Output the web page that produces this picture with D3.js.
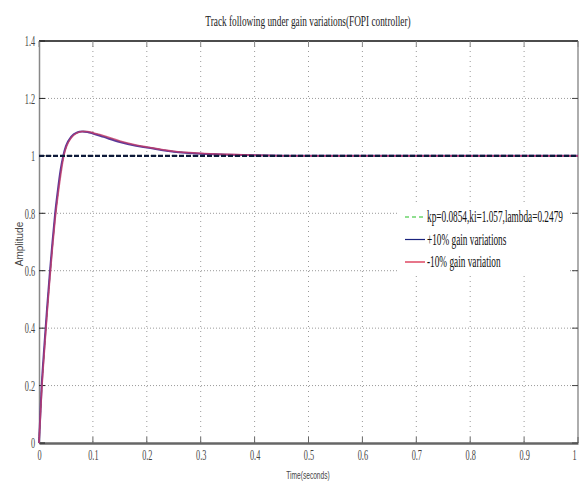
<!DOCTYPE html>
<html><head><meta charset="utf-8">
<script src="https://cdn.jsdelivr.net/npm/d3@7"></script>
<style>body{margin:0;background:#fff}svg{display:block}</style>
</head><body>
<svg id="c" width="579" height="483"></svg>
<script>
const time     = [0,0.005,0.01,0.015,0.02,0.025,0.03,0.035,0.04,0.045,0.05,0.06,0.07,0.08,0.09,0.1,0.12,0.15,0.18,0.2,0.25,0.3,0.35,0.4,0.5,0.6,0.8,1.0];
const nominal  = [0,0.19,0.33,0.46,0.58,0.69,0.79,0.87,0.94,0.995,1.03,1.065,1.08,1.085,1.084,1.079,1.068,1.05,1.036,1.03,1.015,1.008,1.004,1.002,1.0,1.0,1.0,1.0];
const plus10   = [0,0.20,0.34,0.47,0.59,0.70,0.80,0.88,0.95,1.0,1.034,1.067,1.081,1.085,1.083,1.078,1.066,1.048,1.035,1.029,1.014,1.007,1.004,1.002,1.0,1.0,1.0,1.0];
const minus10  = [0,0.18,0.32,0.45,0.57,0.68,0.78,0.86,0.93,0.99,1.027,1.063,1.079,1.085,1.085,1.080,1.070,1.052,1.038,1.031,1.016,1.009,1.005,1.002,1.0,1.0,1.0,1.0];
const setpoint = [1,1];
const setTime  = [0,1];
const xTicks = [0,0.1,0.2,0.3,0.4,0.5,0.6,0.7,0.8,0.9,1];
const yTicks = [0,0.2,0.4,0.6,0.8,1,1.2,1.4];
const legendLabels = ["kp=0.0854,ki=1.057,lambda=0.2479","+10% gain variations","-10% gain variation"];
const legendColors = ["#22c022","#1a237e","#d81b3c"];

const svg = d3.select("#c");
const x = d3.scaleLinear().domain([0,1]).range([39,578]);
const y = d3.scaleLinear().domain([0,1.4]).range([443,41]);
const SX = 0.55;

// grid
svg.append("g").selectAll("line").data(xTicks.slice(1,-1)).join("line")
  .attr("x1",d=>x(d)).attr("x2",d=>x(d)).attr("y1",y(1.4)).attr("y2",y(0))
  .attr("stroke","#9a9a9a").attr("stroke-width",1).attr("stroke-dasharray","1,4");
svg.append("g").selectAll("line").data(yTicks.slice(1,-1)).join("line")
  .attr("x1",x(0)).attr("x2",x(1)).attr("y1",d=>y(d)).attr("y2",d=>y(d))
  .attr("stroke","#9a9a9a").attr("stroke-width",1).attr("stroke-dasharray","1,2");

// frame
svg.append("line").attr("x1",x(0)).attr("x2",x(1)).attr("y1",y(1.4)).attr("y2",y(1.4)).attr("stroke","#111").attr("stroke-width",1.5);
svg.append("line").attr("x1",x(1)).attr("x2",x(1)).attr("y1",y(1.4)).attr("y2",y(0)).attr("stroke","#777").attr("stroke-width",1.2);

// axes
const gx = svg.append("g").attr("transform",`translate(0,${y(0)})`)
  .call(d3.axisBottom(x).tickValues(xTicks).tickFormat(d3.format("")).tickSize(0).tickPadding(6));
gx.select(".domain").attr("stroke","#666").attr("stroke-width",2.5);
gx.selectAll("text").attr("font-family","Liberation Serif").attr("font-size",15).attr("fill","#444")
  .attr("transform",`scale(${SX},1)`);
gx.selectAll(".tick").filter(d=>d===1).select("text").attr("x",-7);
svg.append("g").selectAll("line").data(xTicks).join("line")
  .attr("x1",d=>x(d)).attr("x2",d=>x(d)).attr("y1",y(0)).attr("y2",y(0)-6).attr("stroke","#666");
svg.append("g").selectAll("line").data(xTicks).join("line")
  .attr("x1",d=>x(d)).attr("x2",d=>x(d)).attr("y1",y(1.4)).attr("y2",y(1.4)+6).attr("stroke","#888");

const gy = svg.append("g").attr("transform",`translate(${x(0)},0)`)
  .call(d3.axisLeft(y).tickValues(yTicks).tickFormat(d3.format("")).tickSize(0).tickPadding(7));
gy.select(".domain").attr("stroke","#888").attr("stroke-width",1.5);
gy.selectAll("text").attr("font-family","Liberation Serif").attr("font-size",15).attr("fill","#444")
  .attr("transform",`scale(${SX},1)`);
svg.append("g").selectAll("line").data(yTicks).join("line")
  .attr("x1",x(0)).attr("x2",x(0)+6).attr("y1",d=>y(d)).attr("y2",d=>y(d)).attr("stroke","#222");
svg.append("g").selectAll("line").data(yTicks).join("line")
  .attr("x1",x(1)-6).attr("x2",x(1)).attr("y1",d=>y(d)).attr("y2",d=>y(d)).attr("stroke","#444");

// lines
const line = d3.line().x(d=>x(d[0])).y(d=>y(d[1])).curve(d3.curveMonotoneX);
svg.append("path").datum(d3.zip(time,nominal)).attr("d",line).attr("fill","none").attr("stroke",legendColors[0]).attr("stroke-width",1.2).attr("stroke-dasharray","4,3");
svg.append("path").datum(d3.zip(time,plus10)).attr("d",line).attr("fill","none").attr("stroke","#5a3a9a").attr("stroke-width",2);
svg.append("path").datum(d3.zip(time,minus10)).attr("d",line).attr("fill","none").attr("stroke","#c43a6a").attr("stroke-width",1.6).attr("stroke-opacity",0.8);
svg.append("path").datum(d3.zip(setTime,setpoint)).attr("d",line).attr("fill","none").attr("stroke","#0d1a3a").attr("stroke-width",2.2).attr("stroke-dasharray","5,2");

// legend
const lg = svg.append("g");
lg.append("rect").attr("x",399).attr("y",204).attr("width",171).attr("height",68).attr("fill","#fff");
legendLabels.forEach((t,i)=>{
  const yy = 217 + i*22.5;
  lg.append("line").attr("x1",405).attr("x2",425).attr("y1",yy).attr("y2",yy)
    .attr("stroke",legendColors[i]).attr("stroke-width",1.2).attr("stroke-dasharray",i===0?"4,3":null);
  lg.append("text").attr("transform",`translate(427,${yy+5}) scale(0.58,1)`).text(t)
    .attr("font-family","Liberation Serif").attr("font-size",16).attr("fill","#111");
});

// titles
svg.append("text").attr("transform","translate(308,26) scale(0.62,1)").attr("text-anchor","middle").text("Track following under gain variations(FOPI controller)")
  .attr("font-family","Liberation Serif").attr("font-size",15).attr("fill","#222");
svg.append("text").attr("transform","translate(308,479) scale(0.6,1)").attr("text-anchor","middle").text("Time(seconds)")
  .attr("font-family","Liberation Sans").attr("font-size",11).attr("fill","#444");
svg.append("text").attr("transform","translate(23,244) rotate(-90)").attr("text-anchor","middle").text("Amplitude")
  .attr("font-family","Liberation Sans").attr("font-size",10).attr("fill","#444");
</script>
</body></html>
